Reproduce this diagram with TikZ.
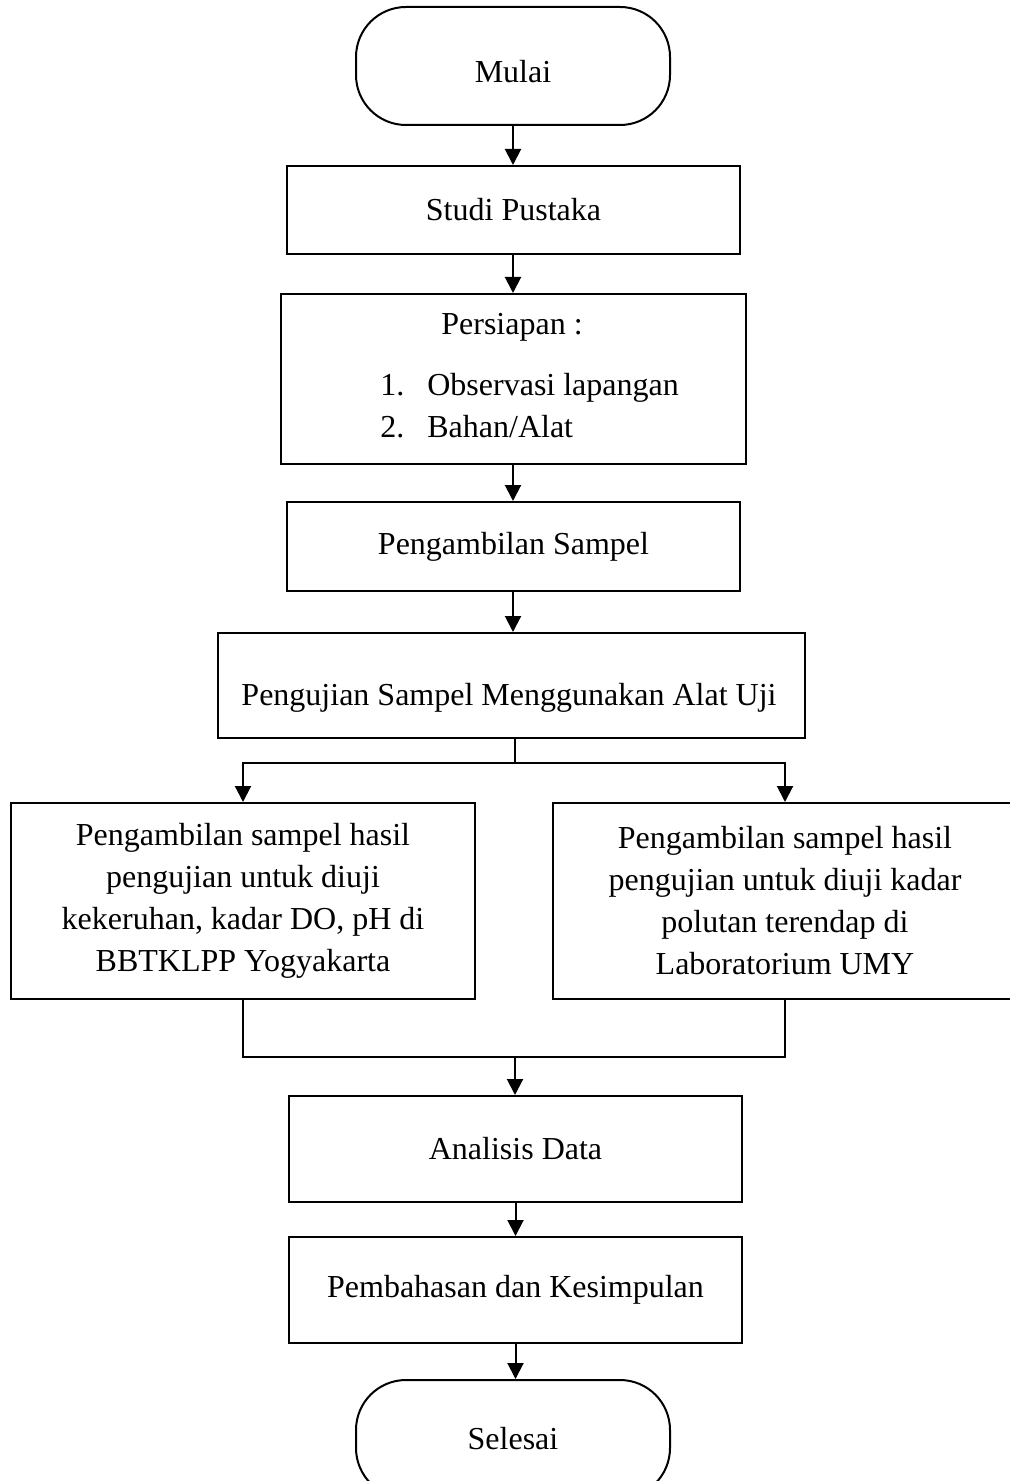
\documentclass[tikz,border=0pt]{standalone}
\usepackage{fontspec}
\setmainfont{Liberation Serif}
\usetikzlibrary{arrows.meta,calc}
\begin{document}
\begin{tikzpicture}[x=0.5pt,y=-0.5pt,
  every node/.style={font=\fontsize{16}{21}\selectfont, inner sep=0pt},
  procbox/.style={draw, line width=1pt, align=center},
  termbox/.style={draw, line width=1pt, rounded corners=25pt, minimum width=157pt, minimum height=59pt},
  flowline/.style={line width=1pt},
  arr/.style={line width=1pt, -{Triangle[width=8pt,length=8pt]}}
]
\useasboundingbox (0,0) rectangle (1009,1481);

\node[termbox] (mulai) at (513,66) {};
\node (mulait) at (513,72) {Mulai};
\node[procbox, minimum width=226.5pt, minimum height=44pt] (studi) at (513.5,210) {Studi Pustaka};
\node[procbox, minimum width=232.5pt, minimum height=85pt] (persiapan) at (513.5,379) {};
\node (perst) at (512,327) {Persiapan :};
\node[anchor=west] (list1) at (380,388) {\makebox[23.5pt][l]{1.}Observasi lapangan};
\node[anchor=west] (list2) at (380,427) {\makebox[23.5pt][l]{2.}Bahan/Alat};
\node[procbox, minimum width=226.5pt, minimum height=44.5pt] (sampel) at (513.5,546.5) {Pengambilan Sampel};
\node[procbox, minimum width=293.5pt, minimum height=52.5pt] (uji) at (511.5,685.5) {};
\node (ujit) at (509,698) {Pengujian Sampel Menggunakan Alat Uji};
\node[procbox, minimum width=232pt, minimum height=98pt] (kiri) at (243,901)
  {Pengambilan sampel hasil\\pengujian untuk diuji\\kekeruhan, kadar DO, pH di\\BBTKLPP Yogyakarta};
\node[procbox, minimum width=232pt, minimum height=98pt] (kanan) at (785,901)
  {Pengambilan sampel hasil\\pengujian untuk diuji kadar\\polutan terendap di\\Laboratorium UMY};
\node[procbox, minimum width=226.5pt, minimum height=53pt] (analisis) at (515.5,1149) {Analisis Data};
\node[procbox, minimum width=226.5pt, minimum height=53pt] (bahas) at (515.5,1290) {Pembahasan dan Kesimpulan};
\node[termbox] (selesai) at (513,1439) {Selesai};

\coordinate (split) at (515,763);
\coordinate (merge) at (515,1057);

\draw[arr] (mulai.south) -- (mulai.south |- studi.north);
\draw[arr] (mulai.south |- studi.south) -- (mulai.south |- persiapan.north);
\draw[arr] (mulai.south |- persiapan.south) -- (mulai.south |- sampel.north);
\draw[arr] (mulai.south |- sampel.south) -- (mulai.south |- uji.north);
\draw[flowline] (split |- uji.south) -- (split);
\draw[arr] (split) -| (kiri.north);
\draw[arr] (split) -| (kanan.north);
\draw[flowline] (kiri.south) |- (merge);
\draw[flowline] (kanan.south) |- (merge);
\draw[arr] (merge) -- (merge |- analisis.north);
\draw[arr] (analisis.south) -- (analisis.south |- bahas.north);
\draw[arr] (bahas.south) -- (bahas.south |- selesai.north);
\end{tikzpicture}
\end{document}
